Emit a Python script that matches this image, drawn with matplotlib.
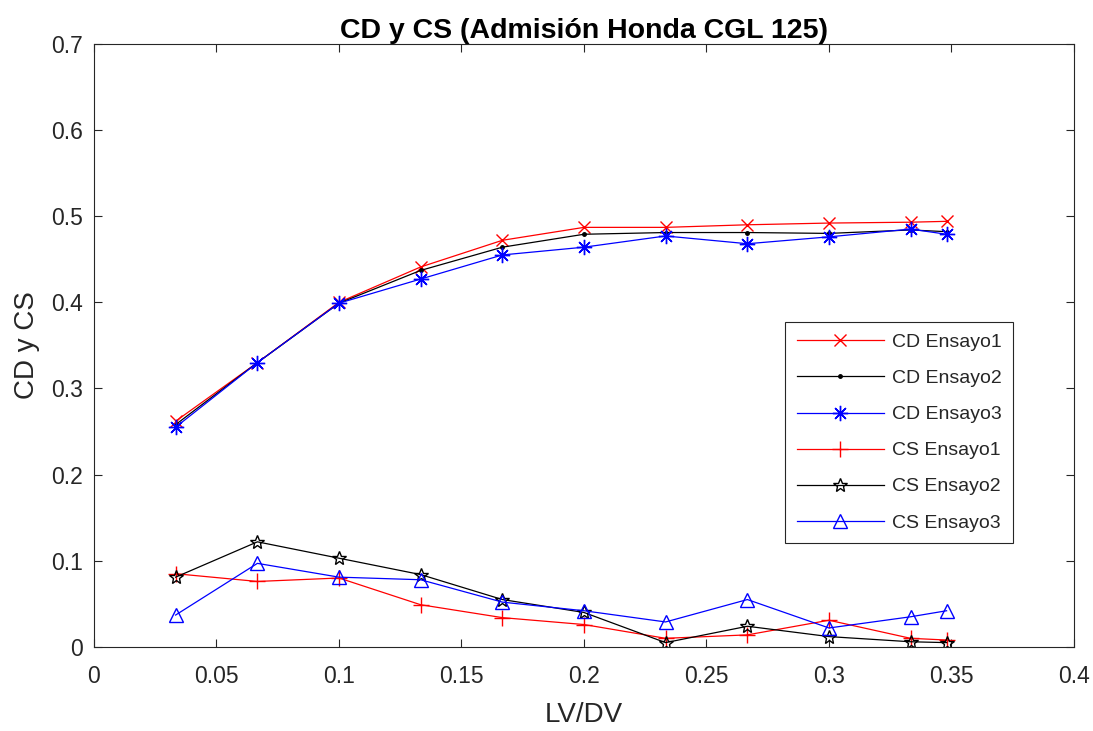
import matplotlib
matplotlib.use("Agg")
import matplotlib.pyplot as plt

# LV/DV positions
lv_dv = [0.0333, 0.0667, 0.1, 0.1333, 0.1667, 0.2, 0.2333, 0.2667, 0.3, 0.3333, 0.348]

# discharge coefficient (CD)
cd_ensayo1 = [0.262, 0.330, 0.400, 0.441, 0.472, 0.487, 0.487, 0.490, 0.492, 0.493, 0.494]
cd_ensayo2 = [0.258, 0.330, 0.399, 0.437, 0.464, 0.479, 0.481, 0.481, 0.480, 0.484, 0.482]
cd_ensayo3 = [0.255, 0.330, 0.399, 0.427, 0.455, 0.464, 0.477, 0.468, 0.476, 0.485, 0.479]

# swirl coefficient (CS)
cs_ensayo1 = [0.085, 0.076, 0.080, 0.049, 0.034, 0.026, 0.010, 0.014, 0.031, 0.010, 0.008]
cs_ensayo2 = [0.081, 0.122, 0.103, 0.084, 0.055, 0.040, 0.005, 0.024, 0.012, 0.006, 0.005]
cs_ensayo3 = [0.037, 0.097, 0.081, 0.078, 0.052, 0.042, 0.029, 0.055, 0.022, 0.035, 0.042]

xticks = [0, 0.05, 0.1, 0.15, 0.2, 0.25, 0.3, 0.35, 0.4]
xtick_labels = ["0", "0.05", "0.1", "0.15", "0.2", "0.25", "0.3", "0.35", "0.4"]
yticks = [0, 0.1, 0.2, 0.3, 0.4, 0.5, 0.6, 0.7]
ytick_labels = ["0", "0.1", "0.2", "0.3", "0.4", "0.5", "0.6", "0.7"]

plt.rcParams["font.family"] = ["Liberation Sans", "DejaVu Sans"]
axcol = (0.15, 0.15, 0.15)

fig = plt.figure(figsize=(10.93, 7.31), dpi=100)
ax = fig.add_axes([0.086, 0.115, 0.8966, 0.825])

lw = 0.9
ax.plot(lv_dv, cd_ensayo1, color="red", marker="x", ms=8, lw=lw, label="CD Ensayo1")
ax.plot(lv_dv, cd_ensayo2, color="black", marker=".", ms=5, lw=lw, label="CD Ensayo2")
ax.plot(lv_dv, cd_ensayo3, color="blue", marker=(8, 2, 0), ms=11, lw=lw, mew=1.0, label="CD Ensayo3")
ax.plot(lv_dv, cs_ensayo1, color="red", marker="+", ms=12, lw=lw, label="CS Ensayo1")
ax.plot(lv_dv, cs_ensayo2, color="black", marker="*", ms=10, mfc="none", lw=lw, label="CS Ensayo2")
ax.plot(lv_dv, cs_ensayo3, color="blue", marker="^", ms=10, mfc="none", lw=lw, label="CS Ensayo3")

ax.set_xlim(0, 0.4)
ax.set_ylim(0, 0.7)
ax.set_xticks(xticks)
ax.set_xticklabels(xtick_labels)
ax.set_yticks(yticks)
ax.set_yticklabels(ytick_labels)
ax.tick_params(direction="in", top=True, right=True, length=6, labelsize=16.5,
               colors=axcol)
ax.tick_params(axis="x", pad=13)
ax.tick_params(axis="y", pad=8)
for s in ax.spines.values():
    s.set_color(axcol)
    s.set_linewidth(0.8)

ax.set_xlabel("LV/DV", fontsize=20, color=axcol, labelpad=10)
ax.set_ylabel("CD y CS", fontsize=20, color=axcol, labelpad=8)
ax.set_title("CD y CS (Admisión Honda CGL 125)", fontsize=20.5, fontweight="bold",
             color="black", pad=4)

leg = ax.legend(loc="upper left", bbox_to_anchor=(0.705, 0.539), borderaxespad=0,
                fontsize=14, handlelength=4.5, labelspacing=0.95, borderpad=0.6,
                fancybox=False, framealpha=1, edgecolor=axcol, handletextpad=0.4)
leg.get_frame().set_linewidth(0.8)
for t in leg.get_texts():
    t.set_color(axcol)

fig.savefig("out.png", dpi=100)
